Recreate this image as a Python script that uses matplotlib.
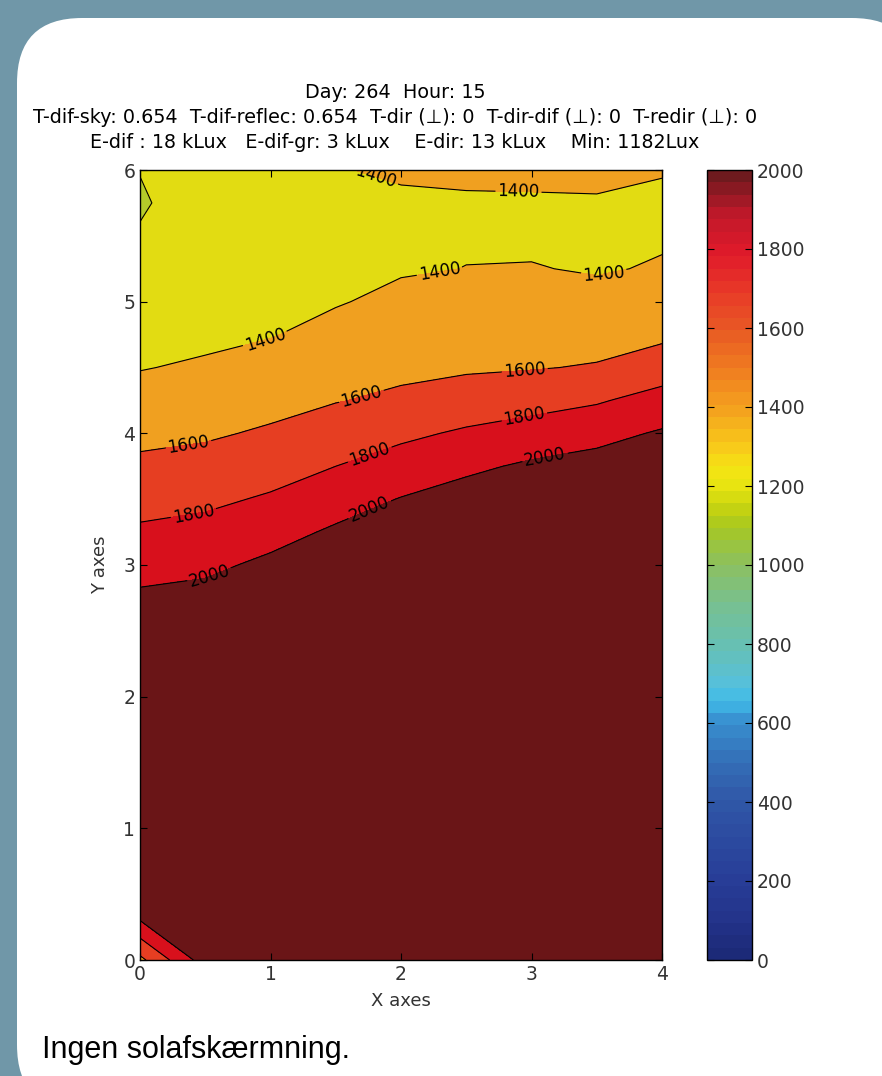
import matplotlib
matplotlib.use('Agg')
import matplotlib.pyplot as plt
import matplotlib.transforms as mtrans
from matplotlib.patches import FancyBboxPatch
from matplotlib.cm import ScalarMappable
from matplotlib.colors import Normalize, LinearSegmentedColormap
import numpy as np

plt.rcParams['font.family'] = ['DejaVu Sans']

# grid of the illuminance field (Lux), rows = y, columns = x
x_vals = [0, 0.5, 1, 1.5, 2, 2.5, 3, 3.5, 4]
y_vals = [0, 0.5, 1, 1.5, 2, 2.5, 2.75, 3, 3.25, 3.5, 3.75, 4, 4.25, 4.5, 4.75, 5, 5.25, 5.5, 5.75, 6]
lux = [
    [1550, 2100, 3240, 3328, 3408, 3530, 3600, 3700, 3800],
    [2300, 2960, 3040, 3128, 3208, 3330, 3400, 3500, 3600],
    [2750, 2760, 2840, 2928, 3008, 3130, 3200, 3300, 3400],
    [2540, 2560, 2640, 2728, 2808, 2930, 3000, 3100, 3200],
    [2340, 2360, 2440, 2528, 2608, 2730, 2800, 2900, 3000],
    [2135, 2160, 2240, 2328, 2408, 2530, 2600, 2680, 2760],
    [2033, 2060, 2140, 2228, 2308, 2420, 2480, 2560, 2640],
    [1931, 1960, 2040, 2128, 2208, 2310, 2370, 2450, 2520],
    [1829, 1860, 1933, 2028, 2108, 2195, 2260, 2330, 2400],
    [1732, 1762, 1822, 1916, 2008, 2080, 2145, 2190, 2260],
    [1638, 1665, 1722, 1800, 1885, 1962, 2030, 2070, 2130],
    [1552, 1576, 1624, 1694, 1760, 1827, 1884, 1942, 2020],
    [1471, 1500, 1542, 1592, 1635, 1686, 1727, 1780, 1876],
    [1392, 1424, 1467, 1523, 1558, 1577, 1590, 1613, 1700],
    [1340, 1360, 1391, 1455, 1499, 1520, 1531, 1532, 1562],
    [1300, 1330, 1355, 1388, 1440, 1462, 1471, 1459, 1488],
    [1260, 1310, 1330, 1365, 1385, 1402, 1408, 1385, 1415],
    [1215, 1295, 1315, 1350, 1378, 1385, 1370, 1365, 1380],
    [1180, 1290, 1310, 1360, 1388, 1388, 1385, 1385, 1385],
    [1205, 1295, 1320, 1396, 1410, 1420, 1430, 1440, 1405],
]
levels = [1000, 1200, 1400, 1600, 1800, 2000]
band_colors = ['#b5cc2a', '#e2dc12', '#f0a020', '#e63e22', '#d8101c', '#6a1517']
cbar_ticks = list(range(0, 2001, 200))

title_lines = ['Day: 264  Hour: 15',
               'T-dif-sky: 0.654  T-dif-reflec: 0.654  T-dir (\u22a5): 0  T-dir-dif (\u22a5): 0  T-redir (\u22a5): 0',
               'E-dif : 18 kLux   E-dif-gr: 3 kLux    E-dir: 13 kLux    Min: 1182Lux']

# where the contour labels sit (data coords)
label_spots = [(1.8, 5.92), (2.9, 5.82),
               (0.96, 4.71), (2.3, 5.2), (3.56, 5.18),
               (0.38, 3.86), (1.72, 4.2), (2.95, 4.45),
               (0.42, 3.33), (1.76, 3.84), (2.95, 4.1),
               (0.54, 2.9), (1.76, 3.42), (3.1, 3.84)]

# jet-like colour ramp as it looks in the picture (position, colour)
ramp = [(0.0, '#1c2a78'), (0.05, '#24348c'), (0.1, '#283e98'), (0.2, '#3058a8'),
        (0.25, '#3470b8'), (0.3, '#3890d0'), (0.325, '#40bce8'), (0.35, '#58c0d8'),
        (0.4, '#68c0b0'), (0.45, '#78c090'), (0.5, '#8cc060'), (0.55, '#a8c820'),
        (0.575, '#c8d410'), (0.6, '#e6e410'), (0.625, '#f4e414'), (0.65, '#f8cc1a'),
        (0.7, '#f4a21e'), (0.75, '#f07e20'), (0.8, '#e85a24'), (0.85, '#e83a28'),
        (0.9, '#e01a2a'), (0.95, '#c0182a'), (1.0, '#6e1a1e')]

W, H = 882, 1076
fig = plt.figure(figsize=(W / 100, H / 100), dpi=100, facecolor='#7097a8')
panel = FancyBboxPatch((17, -34), 900, H - 18 + 34, boxstyle='round,pad=0,rounding_size=65',
                       transform=mtrans.IdentityTransform(), fc='white', ec='none', zorder=-10)
fig.add_artist(panel)

ax = fig.add_axes([140 / W, 116 / H, 522 / W, 790 / H])
ax.contourf(x_vals, y_vals, lux, levels=levels, colors=band_colors, extend='max')
cl = ax.contour(x_vals, y_vals, lux, levels=levels, colors='k', linewidths=0.8)
ax.clabel(cl, fmt='%d', fontsize=12, inline=True, inline_spacing=2, manual=label_spots)

ax.set_xlim(0, 4)
ax.set_ylim(0, 6)
ax.set_xticks(range(0, 5))
ax.set_yticks(range(0, 7))
ax.tick_params(direction='in', top=True, right=True, length=5, labelsize=13.5, labelcolor='#333333')
for s in ax.spines.values():
    s.set_linewidth(1)
ax.set_xlabel('X axes', fontsize=13, color='#333333', labelpad=6)
ax.set_ylabel('Y axes', fontsize=13, color='#333333', labelpad=10)

cmap = LinearSegmentedColormap.from_list('jetish', ramp, N=64)
cax = fig.add_axes([707 / W, 116 / H, 45 / W, 790 / H])
sm = ScalarMappable(norm=Normalize(0, 2000), cmap=cmap)
cb = fig.colorbar(sm, cax=cax, ticks=cbar_ticks)
cax.tick_params(direction='in', left=True, right=True, length=5, labelsize=13.5, labelcolor='#333333')
cb.outline.set_linewidth(1)

for i, line in enumerate(title_lines):
    fig.text(395 / W, 1 - (93 + 24.5 * i) / H, line, ha='center', va='center', fontsize=13.8)

fig.text(42 / W, 1 - 1050 / H, 'Ingen solafsk\u00e6rmning.', fontsize=22, va='center',
         family=['Liberation Sans', 'DejaVu Sans'])

fig.savefig('out.png', dpi=100, facecolor=fig.get_facecolor())
